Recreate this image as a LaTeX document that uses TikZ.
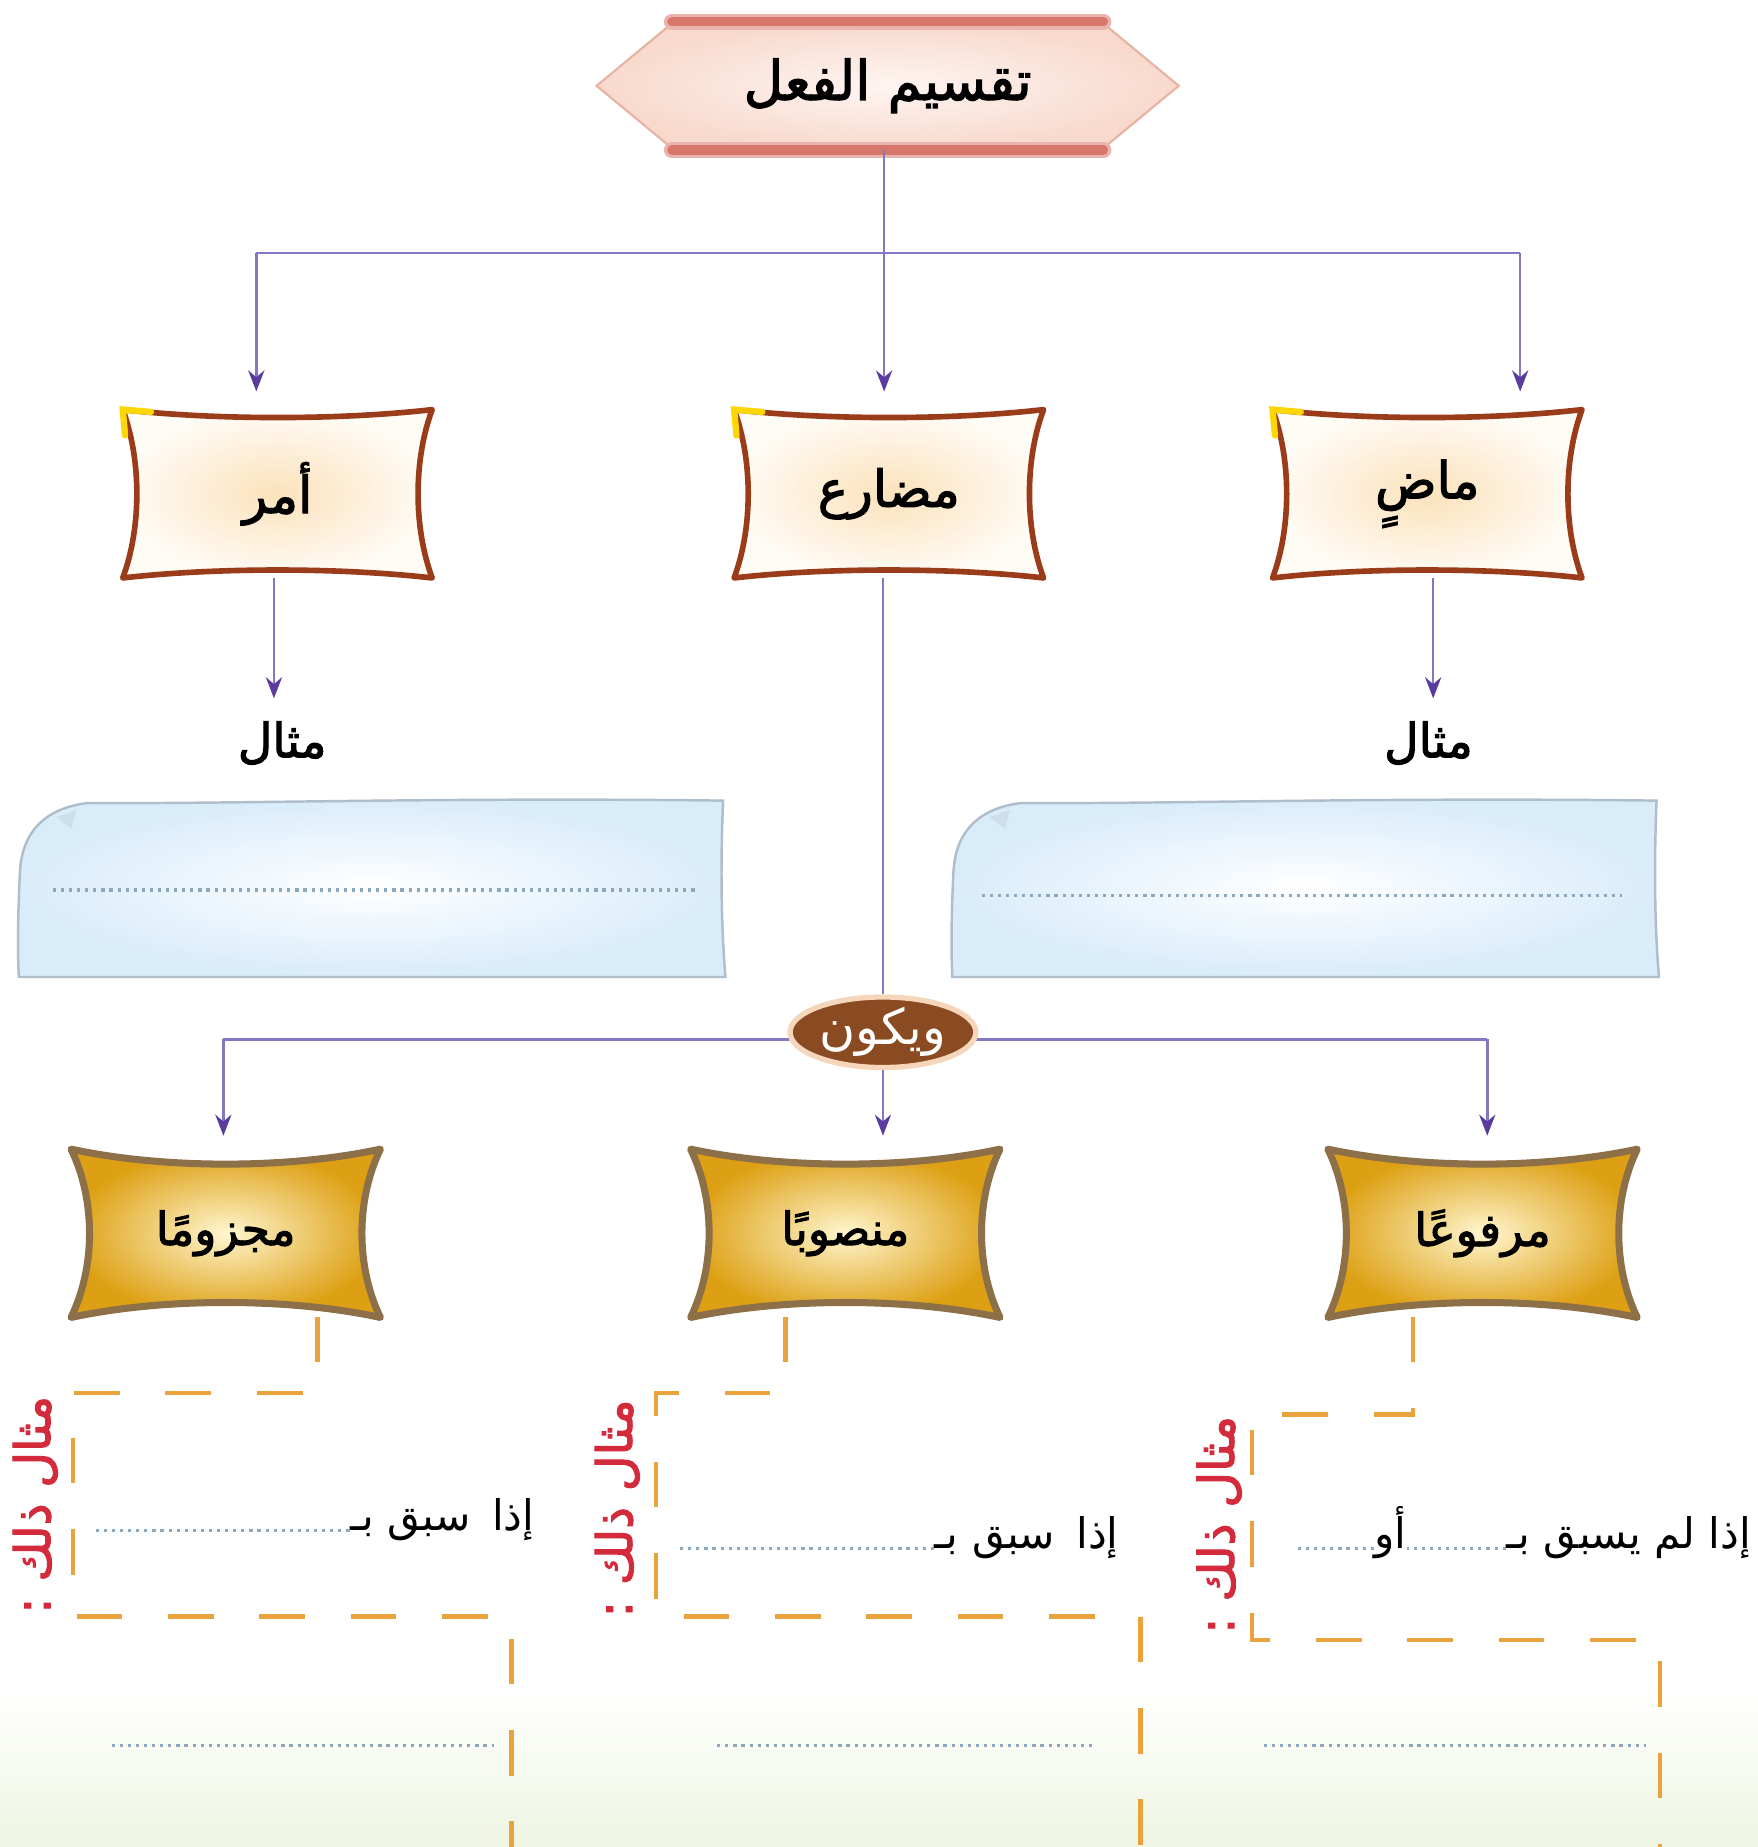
\documentclass[tikz,border=0pt]{standalone}
\usepackage{fontspec}
\usetikzlibrary{calc,arrows.meta,backgrounds,shapes.geometric}
\TeXXeTstate=1
\newfontfamily\arabicfont[Script=Arabic]{DejaVu Sans}
\newfontfamily\arabicbold[Script=Arabic,FakeBold=2.2]{DejaVu Sans}
\newcommand{\artxt}[1]{\beginR #1\endR}
\definecolor{connc}{HTML}{8576C4}
\definecolor{tipc}{HTML}{5B3C9E}
\definecolor{boxbrd}{HTML}{9A3B1A}
\definecolor{boxin}{HTML}{FBE2BB}
\definecolor{boxout}{HTML}{FFFBF5}
\definecolor{goldin}{HTML}{FFF6CF}
\definecolor{goldout}{HTML}{DDA014}
\definecolor{goldbrd}{HTML}{8E7048}
\definecolor{hexin}{HTML}{FEF5F1}
\definecolor{hexout}{HTML}{F8D9CC}
\definecolor{hexbrd}{HTML}{E6B3A3}
\definecolor{hexband}{HTML}{D7776B}
\definecolor{blueout}{HTML}{D9ECFA}
\definecolor{bluebrd}{HTML}{B0BECB}
\definecolor{brownell}{HTML}{8A4A22}
\definecolor{ellglow}{HTML}{F6D6BA}
\definecolor{dashc}{HTML}{E9A23C}
\definecolor{redt}{HTML}{D32B3B}
\definecolor{dotc}{HTML}{8DA7BD}
\definecolor{greenbg}{HTML}{EEF5E2}
\newcommand{\pillowpath}[3]{%
 (#1.north west)
 .. controls ($(#1.north west)!0.3!(#1.north east)+(0,#2)$) and ($(#1.north west)!0.7!(#1.north east)+(0,#2)$) .. (#1.north east)
 .. controls ($(#1.north east)!0.3!(#1.south east)+(-#3,0)$) and ($(#1.north east)!0.7!(#1.south east)+(-#3,0)$) .. (#1.south east)
 .. controls ($(#1.south east)!0.3!(#1.south west)+(0,-#2)$) and ($(#1.south east)!0.7!(#1.south west)+(0,-#2)$) .. (#1.south west)
 .. controls ($(#1.south west)!0.3!(#1.north west)+(#3,0)$) and ($(#1.south west)!0.7!(#1.north west)+(#3,0)$) .. (#1.north west) -- cycle}
\newcommand{\scrollpath}[1]{%
 (#1ne)
 .. controls ($(#1ne)!0.4!(#1nw)+(0,-3)$) and ($(#1ne)!0.7!(#1nw)+(0,3)$) .. ($(#1nw)+(60,2)$)
 .. controls ($(#1nw)+(25,6)$) and ($(#1nw)+(4,25)$) .. ($(#1nw)+(2,60)$)
 .. controls ($(#1nw)+(0,100)$) and ($(#1sw)+(0,-20)$) .. ($(#1sw)+(1,0)$)
 -- ($(#1se)+(2,0)$)
 .. controls ($(#1se)+(-2,-50)$) and ($(#1ne)+(-2,50)$) .. (#1ne) -- cycle}
\begin{document}
\begin{tikzpicture}[x=0.1176mm,y=-0.1176mm,
  conn/.style={draw=connc, line width=0.7pt},
  arr/.style={conn, -{Stealth[length=6pt,width=4.6pt,color=tipc]}},
  boxA/.style={rectangle, inner sep=0pt, minimum width=262*0.1176mm, minimum height=142*0.1176mm, font=\arabicbold\fontsize{14.5}{18}\selectfont},
  boxB/.style={boxA, font=\arabicbold\fontsize{13}{16}\selectfont},
  mithal/.style={inner sep=0pt, font=\arabicbold\fontsize{13.5}{16}\selectfont},
  redlbl/.style={inner sep=0pt, text=redt, rotate=90, font=\arabicbold\fontsize{14}{16}\selectfont},
  linetxt/.style={inner sep=0pt, font=\arabicfont\fontsize{12}{15}\selectfont},
  dashline/.style={draw=dashc, line width=1.3pt, dash pattern=on 13pt off 13pt},
  dotline/.style={draw=dotc, line width=0.9pt, dash pattern=on 0.9pt off 1.4pt}]
\useasboundingbox (0,0) rectangle (1495,1571);

% ---- nodes ----
\node[rectangle, inner sep=0pt, minimum width=494*0.1176mm, minimum height=108*0.1176mm,
      font=\arabicbold\fontsize{15.5}{20}\selectfont] (title) at (755,73) {\artxt{تقسيم الفعل}};

\node[boxA] (amr) at (236,420) {\artxt{أمر}};
\node[boxA] (mudari) at (756,420) {\artxt{مضارع}};
\node[boxA] (madi) at (1214,420) {\artxt{ماضٍ}};

\node[mithal] (mthL) at (240,632) {\artxt{مثال}};
\node[mithal] (mthR) at (1215,632) {\artxt{مثال}};

\node[boxB] (majzum) at (192,1049) {\artxt{مجزومًا}};
\node[boxB] (mansub) at (719,1049) {\artxt{منصوبًا}};
\node[boxB] (marfu) at (1261,1049) {\artxt{مرفوعًا}};

\node[redlbl] (exL) at (30,1280) {\artxt{مثال ذلك :}};
\node[redlbl] (exM) at (525,1283) {\artxt{مثال ذلك :}};
\node[redlbl] (exR) at (1037,1297) {\artxt{مثال ذلك :}};

\node[linetxt, anchor=base east] (t1) at (455,1302) {\artxt{إذا\hspace{0.5em}سبق بـ}};
\node[linetxt, anchor=base east] (t2) at (952,1317) {\artxt{إذا\hspace{0.5em}سبق بـ}};
\node[linetxt, anchor=base east] (t3) at (1490,1317) {\artxt{إذا لم يسبق بـ}};
\node[linetxt, anchor=base east] (ow) at (1197,1317) {\artxt{أو}};

% ---- coordinates ----
\coordinate (jT) at (752,215);
\coordinate (jL) at (218,215);
\coordinate (jR) at (1293,215);
\coordinate (aL) at (218,333);
\coordinate (aM) at (752,333);
\coordinate (aR) at (1293,333);
\coordinate (mL) at (233,594);
\coordinate (mR) at (1219,594);
\coordinate (kL) at (190,884);
\coordinate (kR) at (1265,884);
\coordinate (bL) at (190,966);
\coordinate (bM) at (751,966);
\coordinate (bR) at (1265,966);
\coordinate (d1) at (80,1302);
\coordinate (d2) at (575,1317);
\coordinate (d3) at (1100,1317);
\coordinate (exAnw) at (15,681);  \coordinate (exAne) at (615,681);
\coordinate (exAsw) at (15,831);  \coordinate (exAse) at (615,831);
\coordinate (exBnw) at (809,681); \coordinate (exBne) at (1409,681);
\coordinate (exBsw) at (809,831); \coordinate (exBse) at (1409,831);

\begin{pgfonlayer}{background}
  \fill[white] (0,0) rectangle (1495,1571);
  \shade[top color=white, bottom color=greenbg] (0,1435) rectangle (1495,1571);
  % title hexagon
  \shadedraw[inner color=hexin, outer color=hexout, draw=hexbrd, line width=0.6pt]
    (title.west) -- ($(title.north west)+(66,0)$) -- ($(title.north east)+(-66,0)$) -- (title.east)
    -- ($(title.south east)+(-66,0)$) -- ($(title.south west)+(66,0)$) -- cycle;
  \draw[hexband!55!white, line width=4.5pt, line cap=round] ($(title.north west)+(64,0)$) -- ($(title.north east)+(-64,0)$);
  \draw[hexband, line width=2.6pt, line cap=round] ($(title.north west)+(64,0)$) -- ($(title.north east)+(-64,0)$);
  \draw[hexband!55!white, line width=4.5pt, line cap=round] ($(title.south west)+(64,0)$) -- ($(title.south east)+(-64,0)$);
  \draw[hexband, line width=2.6pt, line cap=round] ($(title.south west)+(64,0)$) -- ($(title.south east)+(-64,0)$);
  % top boxes
  \foreach \b in {amr,mudari,madi}{
    \shadedraw[inner color=boxin, outer color=boxout, draw=boxbrd, line width=1.6pt, line join=round] \pillowpath{\b}{9}{16};
    \draw[yellow!75!orange, line width=1.8pt, line cap=round] ($(\b.north west)+(2,22)$) -- (\b.north west) -- ($(\b.north west)+(24,2)$);
  }
  % scroll boxes
  \foreach \b in {exA,exB}{
    \shadedraw[inner color=white, outer color=blueout, draw=bluebrd, line width=0.7pt] \scrollpath{\b};
    \fill[blueout!70!bluebrd] ($(\b nw)+(33,14)$) -- ($(\b nw)+(50,8)$) -- ($(\b nw)+(46,24)$) -- cycle;
  }
  % golden boxes
  \foreach \b in {majzum,mansub,marfu}{
    \shadedraw[inner color=goldin, outer color=goldout, draw=goldbrd, line width=2pt, line join=round] \pillowpath{\b}{17}{21};
  }
  % horizontal line behind the ellipse
  \draw[conn] (kL) -- (kR);
\end{pgfonlayer}

% ---- connectors ----
\draw[conn] (title.south -| jT) -- (jT);
\draw[conn] (jL) -- (jR);
\draw[arr] (jL) -- (aL);
\draw[arr] (jT) -- (aM);
\draw[arr] (jR) -- (aR);
\draw[arr] (amr.south -| mL) -- (mL);
\draw[arr] (madi.south -| mR) -- (mR);

\node[ellipse, fill=brownell, draw=ellglow, line width=1.5pt, minimum width=158*0.1176mm, minimum height=60*0.1176mm,
      inner sep=0pt, text=white, font=\arabicfont\fontsize{14}{16}\selectfont] (wa) at (751,878) {\artxt{ويكون}};
\draw[conn] (mudari.south -| wa.north) -- (wa.north);
\draw[arr] (kL) -- (bL);
\draw[arr] (wa.south) -- (bM);
\draw[arr] (kR) -- (bR);

% dotted lines
\draw[dotline] (45,757) -- (592,757);
\draw[dotline] (835,762) -- (1380,762);
\draw[dotline] (t1.base west) -- (d1);
\draw[dotline] (t2.base west) -- (d2);
\draw[dotline] (t3.base west) -- (ow.base east);
\draw[dotline] (ow.base west) -- (d3);
\draw[dotline] (95,1485) -- (420,1485);
\draw[dotline] (610,1485) -- (930,1485);
\draw[dotline] (1075,1485) -- (1400,1485);

% dashed brackets
\draw[dashline] (270,1120) -- (270,1185) -- (62,1185) -- (62,1375) -- (435,1375) -- (435,1571);
\draw[dashline] (668,1120) -- (668,1185) -- (558,1185) -- (558,1375) -- (970,1375) -- (970,1571);
\draw[dashline] (1202,1120) -- (1202,1203) -- (1065,1203) -- (1065,1395) -- (1412,1395) -- (1412,1571);
\end{tikzpicture}
\end{document}
